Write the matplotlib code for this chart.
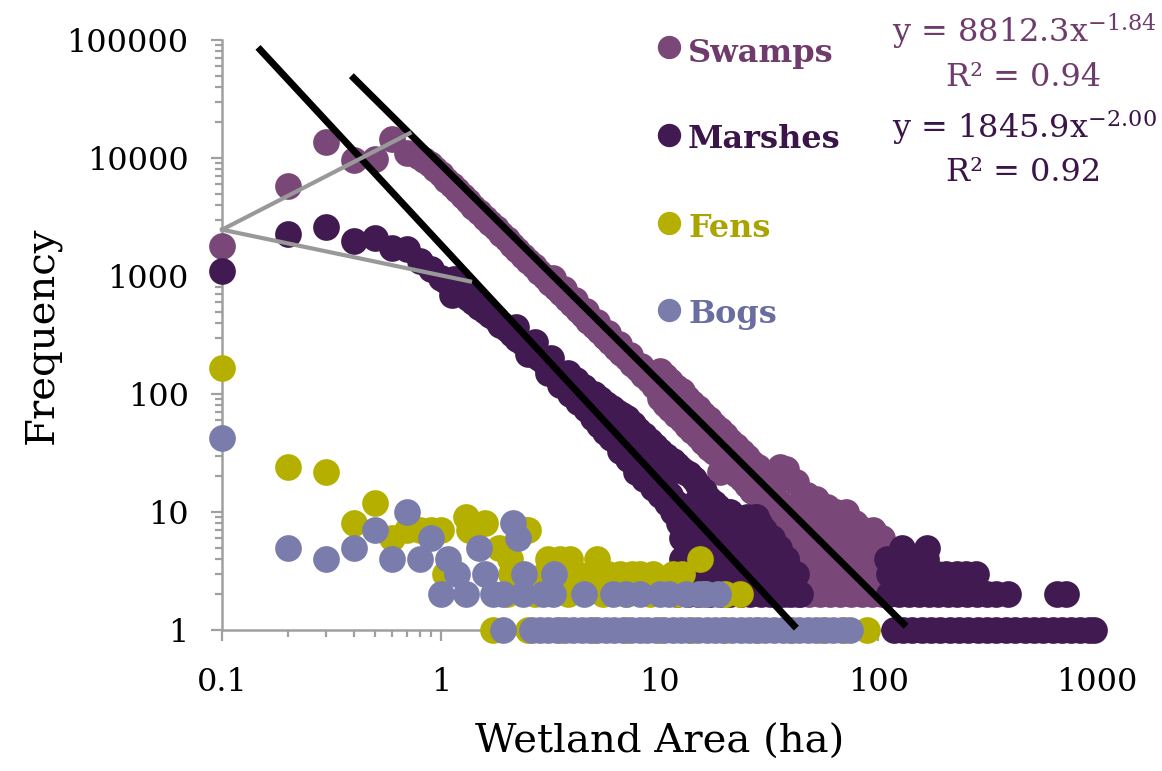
import numpy as np
import matplotlib
matplotlib.use('Agg')
import matplotlib.pyplot as plt
from matplotlib.lines import Line2D
from matplotlib.ticker import FixedLocator, LogLocator, NullFormatter

plt.rcParams['font.family'] = 'DejaVu Serif'
plt.rcParams['mathtext.fontset'] = 'dejavuserif'

# ---------------------------------------------------------------
# Data
# ---------------------------------------------------------------
series_names = ['Swamps', 'Marshes', 'Fens', 'Bogs']

# Swamps: small areas + main ribbon
swamp_x = [0.1, 0.2, 0.3, 0.4, 0.5, 0.6, 0.7, 0.79, 0.84, 0.89, 0.94, 1.0,
           1.06, 1.12, 1.19, 1.26, 1.33, 1.41, 1.5, 1.59, 1.68, 1.78, 1.89, 2.0,
           2.12, 2.24, 2.37, 2.51, 2.66, 2.82, 2.99, 3.16, 3.35, 3.55, 3.76, 3.98,
           4.22, 4.47, 4.73, 5.01, 5.31, 5.62, 5.96, 6.31, 6.68, 7.08, 7.5, 7.94,
           8.41, 8.91, 9.44,
           3.25, 3.65, 4.1, 4.6, 5.15, 5.8, 6.5, 7.3, 8.2, 9.2]
swamp_y = [1800, 5800, 13800, 9700, 9900, 14600, 11000, 10500, 9700, 8900, 8100, 7300,
           6570, 5910, 5320, 4780, 4300, 3870, 3480, 3130, 2820, 2530, 2280, 2050,
           1845, 1660, 1490, 1340, 1210, 1085, 977, 879, 790, 711, 640, 575,
           518, 466, 419, 377, 339, 305, 274, 247, 222, 200, 180, 162,
           145, 131, 118,
           955, 775, 625, 505, 410, 330, 267, 216, 174, 141]
# wider part of the ribbon (x 10-35): low / middle / high values
swamp_band_x = [10.0, 10.6, 11.2, 11.9, 12.6, 13.3, 14.1, 15.0, 15.8, 16.8, 17.8, 18.8,
                20.0, 21.1, 22.4, 23.7, 25.1, 26.6, 28.2, 29.9, 31.6, 33.5, 35.5]
swamp_band_lo = [92, 82, 74, 67, 60, 54, 49, 44, 39, 35, 32, 22,
                 26, 23, 21, 19, 17, 15, 14, 12, 11, 10, 9]
swamp_band_mid = [120, 110, 98, 88, 79, 71, 64, 58, 52, 46, 42, 38,
                  34, 30, 27, 25, 22, 20, 18, 16, 15, 13, 12]
swamp_band_hi = [158, 142, 130, 115, 105, 93, 84, 76, 68, 61, 55, 50,
                 45, 40, 36, 32, 29, 26, 24, 21, 19, 17, 24]
# tail: upper envelope + integer rows
swamp_tail_x = [38, 42, 47, 52, 58, 64, 71, 78, 86, 95, 104]
swamp_tail_y = [23, 18, 14, 13, 11, 10, 10, 8, 7, 7, 6]
swamp_rows = {
    2: [34, 38, 43, 48, 54, 60, 67, 75, 84, 94, 104],
    3: [34, 38, 43, 48, 54, 60, 67, 75, 84, 94, 104],
    4: [35, 40, 45, 51, 57, 64, 72, 81, 91, 102],
    5: [36, 41, 46, 52, 58, 65, 73, 82, 92, 100],
    6: [37, 42, 48, 54, 61, 69, 78, 88],
    7: [38, 44, 50, 57, 65, 74],
    8: [40, 46, 53, 61, 68],
    10: [42, 49, 56],
    12: [44, 50],
}

# Marshes: small areas + main ribbon
marsh_x = [0.1, 0.2, 0.3, 0.4, 0.5, 0.6, 0.7, 0.8, 0.9, 1.0,
           1.06, 1.12, 1.19, 1.26, 1.33, 1.41, 1.5, 1.59, 1.68, 1.78, 1.89, 2.0,
           2.12, 2.24, 2.37, 2.51, 2.66, 2.82, 2.99, 3.16, 3.35, 3.55, 3.76, 3.98,
           4.22, 4.47, 4.73, 5.01, 5.31, 5.62, 5.96, 6.31, 6.68, 7.08, 7.5, 7.94,
           8.41, 8.91, 9.44, 10.0, 10.6, 11.2, 11.9, 12.6]
marsh_y = [1100, 2250, 2600, 1970, 2080, 1720, 1700, 1330, 1150, 960,
           900, 830, 770, 700, 650, 600, 545, 505, 470, 430, 390, 355,
           322, 295, 268, 243, 222, 203, 184, 166, 150, 136, 123, 111,
           100, 90, 80, 72, 64, 58, 51, 46, 41, 36, 32, 29,
           26, 23, 20, 18, 16, 14, 12, 11]
marsh_hi_x = [1.15, 1.25, 1.45, 2.2, 2.7, 3.2, 3.8, 4.15, 4.5, 5.0, 5.35, 5.7, 6.05, 6.4,
              6.75, 7.1, 7.55, 8.0, 8.5, 9.0, 9.5, 10, 10.7, 11.5, 12, 12.5, 13.1, 13.7,
              14.3, 15, 15.9, 16.9, 17.7, 18.5, 19.7, 20.9, 22.4, 25, 27.7, 30, 32.8, 35, 38]
marsh_hi_y = [950, 880, 640, 370, 275, 200, 150, 131, 115, 100, 90, 82, 76, 70,
              66, 63, 56, 50, 45, 40, 36, 33, 30, 27, 25, 23, 22, 21,
              19, 17, 15, 13, 12, 11, 10, 10, 9, 8, 9, 7, 6, 5, 4]
marsh_lo_x = [1.13, 1.86, 2.5, 3.1, 3.5, 3.9, 4.25, 4.6, 4.95, 5.3, 5.65, 6.0, 6.6, 7.2,
              7.8, 8.5, 9.3, 10.1, 10.8, 11.5, 12.3, 12.7, 13.2]
marsh_lo_y = [690, 385, 220, 150, 120, 100, 85, 75, 63, 55, 48, 42, 33, 28,
              22, 19, 16, 14, 12, 10, 8, 6, 7]
marsh_rows = {
    1: [118, 130, 143, 158, 174, 192, 212, 234, 258, 285, 314, 347, 383, 422,
        466, 514, 567, 626, 690, 762, 840, 920, 970],
    2: [12, 13.5, 15, 17, 19, 21, 23.5, 26, 29, 32, 36, 40, 44,
        112, 124, 138, 153, 170, 188, 208, 230, 255, 283, 313, 347, 390, 655, 720],
    3: [12.5, 14, 16, 18, 20, 22.5, 25, 28, 31, 35, 39, 42,
        112, 124, 138, 152, 168, 185, 205, 228, 252, 280],
    4: [12.7, 14.5, 16.5, 18.5, 21, 23.5, 26.5, 30, 34, 38,
        110, 122, 135, 150, 165],
    5: [13.5, 15.5, 17.5, 20, 22.5, 25.5, 29, 33, 128, 167],
    6: [14, 16, 18, 20.5, 23, 26, 29.5, 32],
    7: [14.5, 17, 19.5, 22, 25, 28],
    8: [15, 17.5, 20, 23, 26, 28.5],
    9: [16, 19, 22, 25, 27.7],
    10: [15.5, 18, 20.5],
    12: [14.5, 16.5],
}

# Fens
fen_x = [0.1, 0.2, 0.3, 0.4, 0.5, 0.6, 0.7, 0.8, 0.9, 1.0, 1.05, 1.3, 1.35, 1.6,
         1.85, 2.07, 2.1, 2.45, 2.5, 3.08, 3.5, 3.88, 5.17, 15.3]
fen_y = [165, 24, 22, 8, 12, 6, 7, 7, 7, 7, 3, 9, 7, 8,
         5, 4, 3, 7, 7, 4, 4, 4, 4, 4]
fen_rows = {
    1: [1.73, 2.5, 3.5, 5, 7, 10, 14, 20, 28, 40, 55, 70, 89],
    2: [2.0, 2.7, 3.8, 5.5, 7.0, 9.0, 12, 16, 20, 23.2],
    3: [3.0, 3.5, 4.2, 5.0, 5.8, 6.6, 7.5, 8.1, 9.3, 11.5, 12.7],
}

# Bogs
bog_x = [0.1, 0.2, 0.3, 0.4, 0.5, 0.6, 0.7, 0.8, 0.9, 1.08, 1.18, 1.5, 1.59,
         2.13, 2.25, 2.4, 3.3]
bog_y = [42, 5, 4, 5, 7, 4, 10, 4, 6, 4, 3, 5, 3,
         8, 6, 3, 3]
bog_rows = {
    1: [1.92, 2.6, 2.85, 3.1, 3.4, 3.7, 4.0, 4.4, 4.8, 5.2, 5.7, 6.2, 6.8, 7.4, 8.1,
        8.8, 9.6, 10.5, 11.5, 12.5, 13.7, 15, 16.4, 18, 19.6, 21.5, 23.5, 25.7, 28,
        30.5, 33.4, 36.5, 40, 43.5, 47.5, 52, 57, 62, 68, 74],
    2: [1.0, 1.3, 1.73, 1.92, 2.37, 2.92, 3.25, 4.5, 6.1, 7.0, 8.1, 10, 11,
        13.2, 15.2, 16.3, 18.5],
}

# Power-law fits: coefficient, exponent, x-range of drawn line
swamp_fit = (8812.3, -1.84, 0.39, 134)
marsh_fit = (1845.9, -2.00, 0.146, 42.2)

# grey annotation lines
grey_upper_x, grey_upper_y = [0.1, 0.72], [2470, 16200]
grey_lower_x, grey_lower_y = [0.1, 1.36], [2470, 900]

x_ticks = [0.1, 1, 10, 100, 1000]
x_tick_labels = ['0.1', '1', '10', '100', '1000']
y_ticks = [1, 10, 100, 1000, 10000, 100000]
y_tick_labels = ['1', '10', '100', '1000', '10000', '100000']

# colours
c_swamp, c_marsh, c_fen, c_bog = '#7A4878', '#421A52', '#B5B000', '#7A7DAB'
t_swamp, t_marsh, t_fen, t_bog = '#6E3B6C', '#3B1449', '#A9A400', '#6A6DA0'
axis_grey = '#A0A0A0'


def gather(pairs, rows):
    px, py = [], []
    for xs, ys in pairs:
        px += list(xs)
        py += list(ys)
    for val, row in rows.items():
        px += row
        py += [val] * len(row)
    return px, py


swamp_pts = gather([(swamp_x, swamp_y), (swamp_band_x, swamp_band_lo),
                    (swamp_band_x, swamp_band_mid), (swamp_band_x, swamp_band_hi),
                    (swamp_tail_x, swamp_tail_y)], swamp_rows)
marsh_pts = gather([(marsh_x, marsh_y), (marsh_hi_x, marsh_hi_y),
                    (marsh_lo_x, marsh_lo_y)], marsh_rows)
fen_pts = gather([(fen_x, fen_y)], fen_rows)
bog_pts = gather([(bog_x, bog_y)], bog_rows)

# ---------------------------------------------------------------
# Plot
# ---------------------------------------------------------------
fig = plt.figure(figsize=(11.62, 7.71), dpi=100)
ax = fig.add_axes([0.1911, 0.1829, 0.7530, 0.7652])

marker_s = 370
for (px, py), col, z in [(swamp_pts, c_swamp, 3), (marsh_pts, c_marsh, 4),
                         (fen_pts, c_fen, 5), (bog_pts, c_bog, 6)]:
    ax.scatter(px, py, s=marker_s, color=col, linewidths=0, clip_on=False, zorder=z)

# trend lines
for a, b, x0, x1 in [swamp_fit, marsh_fit]:
    xx = np.geomspace(x0, x1, 60)
    ax.plot(xx, a * xx ** b, color='black', lw=5, solid_capstyle='butt', zorder=8, clip_on=False)

ax.plot(grey_upper_x, grey_upper_y, color='#999999', lw=3, zorder=9, clip_on=False)
ax.plot(grey_lower_x, grey_lower_y, color='#999999', lw=3, zorder=9, clip_on=False)

ax.set_xscale('log')
ax.set_yscale('log')
ax.set_xlim(0.1, 1000)
ax.set_ylim(1, 100000)

ax.xaxis.set_major_locator(FixedLocator(x_ticks))
ax.set_xticklabels(x_tick_labels)
ax.yaxis.set_major_locator(FixedLocator(y_ticks))
ax.set_yticklabels(y_tick_labels)
ax.xaxis.set_minor_locator(LogLocator(base=10, subs=np.arange(2, 10)))
ax.yaxis.set_minor_locator(LogLocator(base=10, subs=np.arange(2, 10)))
ax.xaxis.set_minor_formatter(NullFormatter())
ax.yaxis.set_minor_formatter(NullFormatter())

for side in ['top', 'right']:
    ax.spines[side].set_visible(False)
for side in ['left', 'bottom']:
    ax.spines[side].set_color(axis_grey)
    ax.spines[side].set_linewidth(1.8)
    ax.spines[side].set_zorder(1)

ax.tick_params(which='major', direction='out', length=8, width=1.6, color=axis_grey, labelsize=23)
ax.tick_params(which='minor', direction='out', length=5, width=1.6, color=axis_grey)
ax.tick_params(axis='y', which='major', pad=16)
ax.tick_params(axis='x', which='major', pad=19)

ax.set_xlabel('Wetland Area (ha)', fontsize=29)
ax.set_ylabel('Frequency', fontsize=29)
ax.xaxis.set_label_coords(0.5, -0.19)
ax.xaxis.label.set_va('center')
ax.yaxis.set_label_coords(-0.206, 0.5)
ax.yaxis.label.set_va('center')

# legend (drawn by hand to match placement)
W, H = 1162, 771
legend_rows = [(47, 62, c_swamp, t_swamp), (135, 148, c_marsh, t_marsh),
               (223, 237, c_fen, t_fen), (310, 323, c_bog, t_bog)]
for name, (yc, yb, mc, tc) in zip(series_names, legend_rows):
    fig.add_artist(Line2D([669 / W], [1 - yc / H], marker='o', markersize=15.8,
                          color=mc, linestyle='none', transform=fig.transFigure))
    fig.text(688 / W, 1 - yb / H, name, fontsize=23, fontweight='bold', color=tc,
             ha='left', va='baseline')

# fit equations
fig.text(1024 / W, 1 - 43 / H, r'y = 8812.3x$^{-1.84}$', fontsize=23, color=t_swamp,
         ha='center', va='baseline')
fig.text(1024 / W, 1 - 86 / H, 'R² = 0.94', fontsize=23, color=t_swamp,
         ha='center', va='baseline')
fig.text(1024 / W, 1 - 138 / H, r'y = 1845.9x$^{-2.00}$', fontsize=23, color=t_marsh,
         ha='center', va='baseline')
fig.text(1024 / W, 1 - 181 / H, 'R² = 0.92', fontsize=23, color=t_marsh,
         ha='center', va='baseline')

fig.savefig('out.png', dpi=100)
